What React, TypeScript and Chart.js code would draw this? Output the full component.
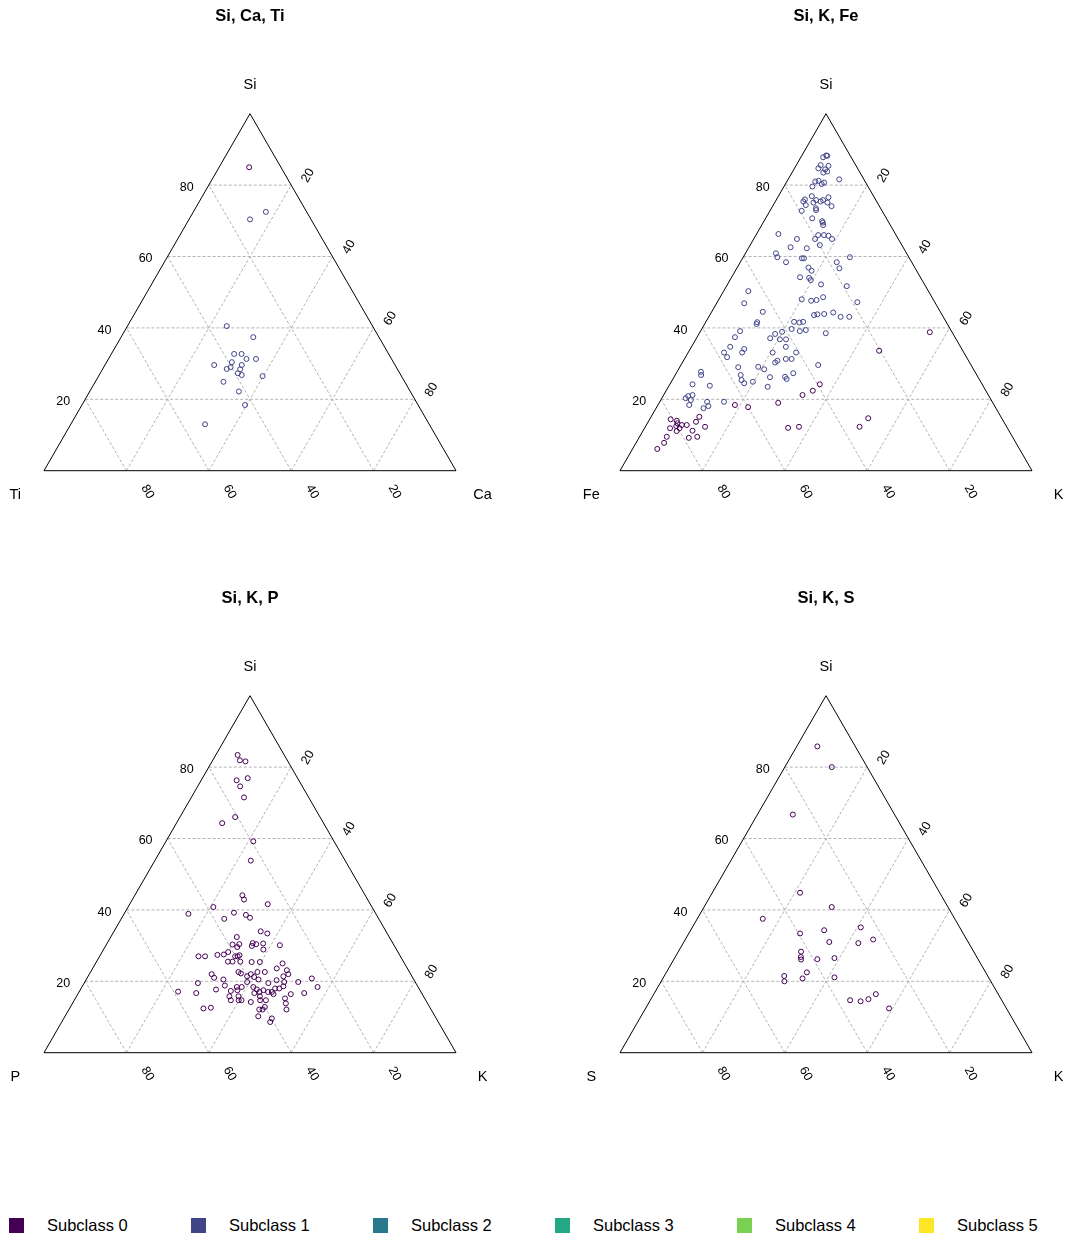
import React, { useEffect, useRef } from "react";
import { Chart, registerables } from "chart.js";

Chart.register(...registerables);

const FONT = '"Liberation Sans", Arial, Helvetica, sans-serif';

const SUBCLASS_LABELS = ["Subclass 0", "Subclass 1", "Subclass 2", "Subclass 3", "Subclass 4", "Subclass 5"];
const SUBCLASS_COLORS = ["#440154", "#414487", "#2A788E", "#22A884", "#7AD151", "#FDE725"];
const GRID_TICKS = [20, 40, 60, 80];
const TICK_LABELS = ["20", "40", "60", "80"];

// ---------- Panel 1: Si, Ca, Ti ----------
const p1Sub0Si = [85.0];
const p1Sub0Ca = [7.3];
const p1Sub0Ti = [7.7];
const p1Sub1Si = [72.5, 70.4, 40.5, 37.4, 32.7, 32.7, 31.3, 31.3, 30.4, 29.6, 29.6, 28.5, 29.0, 28.4, 27.3, 26.8, 26.5, 24.9, 22.2, 18.4, 13.0];
const p1Sub1Ca = [17.6, 14.8, 24.1, 32.1, 29.8, 31.6, 33.5, 35.8, 30.4, 33.2, 26.5, 30.1, 30.8, 33.4, 33.4, 34.6, 39.8, 31.1, 36.2, 39.6, 32.6];
const p1Sub1Ti = [9.9, 14.8, 35.4, 30.5, 37.5, 35.7, 35.2, 32.9, 39.2, 37.2, 43.9, 41.4, 40.2, 38.2, 39.3, 38.6, 33.7, 44.0, 41.6, 42.0, 54.4];

// ---------- Panel 2: Si, K, Fe ----------
const p2Sub1Si = [
  88.3, 87.8, 88.2, 85.6, 85.4, 84.7, 84.4, 83.8, 83.5, 81.6, 81.0, 81.2, 80.7, 79.6, 80.3, 76.9, 76.0, 75.8, 75.8, 76.6,
  75.4, 75.1, 75.1, 75.4, 74.4, 73.5, 73.0, 74.1, 72.8, 70.7, 69.9, 69.5, 68.8, 66.3, 64.9, 66.0, 66.0, 65.8, 64.9, 64.9,
  63.2, 62.6, 62.3, 60.9, 59.8, 58.4, 59.5, 59.5, 59.8, 58.4, 56.7, 56.9, 56.0, 54.2, 54.0, 53.4, 52.2, 51.7, 50.3, 46.9,
  48.0, 47.6, 47.8, 48.6, 47.2, 44.5, 43.6, 43.8, 43.9, 44.3, 43.1, 43.1, 41.6, 41.1, 41.7, 41.5, 41.7, 39.7, 39.1, 39.4,
  38.5, 39.1, 37.4, 38.3, 38.9, 37.1, 36.8, 36.8, 34.7, 33.1, 31.8, 34.1, 33.1, 33.1, 34.7, 33.1, 30.8, 30.3, 31.3, 31.3,
  29.6, 29.0, 29.1, 28.4, 27.7, 26.8, 26.8, 25.4, 26.2, 26.3, 25.7, 27.3, 24.9, 24.5, 23.8, 23.5, 24.2, 20.9, 21.2, 20.3,
  19.8, 18.4, 19.3, 18.1, 17.5, 19.3,
];
const p2Sub1K = [
  5.9, 5.4, 6.2, 5.9, 7.9, 5.8, 7.6, 8.4, 7.6, 12.4, 6.9, 7.6, 9.2, 6.9, 8.8, 8.1, 6.9, 9.7, 11.4, 12.3,
  11.0, 12.8, 9.4, 6.8, 7.9, 10.8, 11.1, 14.3, 7.7, 11.3, 14.1, 14.5, 14.9, 5.3, 10.5, 15.1, 16.5, 17.7, 19.0, 14.9,
  16.9, 10.1, 14.2, 7.4, 8.3, 11.1, 14.4, 14.9, 25.9, 23.4, 24.9, 17.3, 18.5, 16.6, 18.9, 19.6, 22.7, 29.2, 6.0, 6.7,
  20.1, 22.6, 23.8, 25.0, 34.0, 12.4, 25.3, 26.0, 27.6, 29.6, 32.0, 34.1, 12.5, 12.6, 21.4, 22.8, 23.6, 21.8, 24.1, 25.4,
  30.7, 9.6, 9.2, 18.5, 19.9, 17.9, 20.4, 21.9, 9.4, 8.7, 10.1, 13.1, 13.1, 20.5, 22.9, 26.2, 22.8, 22.5, 24.6, 26.0,
  33.3, 14.2, 19.0, 20.8, 5.8, 6.3, 15.9, 16.8, 23.3, 26.9, 27.6, 28.4, 19.8, 17.9, 9.9, 24.1, 5.5, 6.1, 7.0, 5.8,
  7.3, 7.6, 11.5, 12.4, 11.5, 15.6,
];
const p2Sub1Fe = [
  5.8, 6.8, 5.6, 8.5, 6.7, 9.5, 8.0, 7.8, 8.9, 6.0, 12.1, 11.2, 10.1, 13.5, 10.9, 15.0, 17.1, 14.5, 12.8, 11.1,
  13.6, 12.1, 15.5, 17.8, 17.7, 15.7, 15.9, 11.6, 19.5, 18.0, 16.0, 16.0, 16.3, 28.4, 24.6, 18.9, 17.5, 16.5, 16.1, 20.2,
  19.9, 27.3, 23.5, 31.7, 31.9, 30.5, 26.1, 25.6, 14.3, 18.2, 18.4, 25.8, 25.5, 29.2, 27.1, 27.0, 25.1, 19.1, 43.7, 46.4,
  31.9, 29.8, 28.4, 26.4, 18.8, 43.1, 31.1, 30.2, 28.5, 26.1, 24.9, 22.8, 45.9, 46.3, 36.9, 35.7, 34.7, 38.5, 36.8, 35.2,
  30.8, 51.3, 53.4, 43.2, 41.2, 45.0, 42.8, 41.3, 55.9, 58.2, 58.1, 52.8, 53.8, 46.4, 42.4, 40.7, 46.4, 47.2, 44.1, 42.7,
  37.1, 56.8, 51.9, 50.8, 66.5, 66.9, 57.3, 57.8, 50.5, 46.8, 46.7, 44.3, 55.3, 57.6, 66.3, 52.4, 70.3, 73.0, 71.8, 73.9,
  72.9, 74.0, 69.2, 69.5, 71.0, 65.1,
];
const p2Sub0Si = [38.8, 33.6, 24.2, 22.4, 21.2, 19.0, 18.4, 17.8, 15.1, 13.7, 12.3, 14.4, 14.0, 13.3, 12.5, 11.9, 12.8, 12.8, 11.9, 11.1, 11.2, 9.5, 9.2, 9.5, 7.8, 6.1, 12.0, 12.3, 12.3, 14.7];
const p2Sub0K = [55.8, 46.1, 36.4, 35.6, 33.7, 28.9, 18.7, 22.2, 11.7, 11.6, 14.5, 5.1, 6.8, 7.3, 7.4, 8.5, 8.6, 9.8, 6.2, 8.2, 12.0, 6.6, 12.1, 14.0, 6.8, 6.0, 34.8, 37.3, 52.0, 52.9];
const p2Sub0Fe = [5.4, 20.3, 39.4, 42.0, 45.1, 52.1, 62.9, 60.0, 73.2, 74.7, 73.2, 80.5, 79.2, 79.4, 80.1, 79.6, 78.6, 77.4, 81.9, 80.7, 76.8, 83.9, 78.7, 76.5, 85.4, 87.9, 53.2, 50.4, 35.7, 32.4];

// ---------- Panel 3: Si, K, P ----------
const p3Sub0Si = [
  83.4, 81.9, 81.6, 76.3, 76.9, 74.6, 71.5, 66.0, 64.3, 59.2, 53.8, 44.1, 42.9, 41.6, 40.8, 38.9, 39.2, 38.6, 37.8, 37.5,
  34.0, 33.4, 32.4, 30.3, 30.4, 29.6, 30.7, 30.4, 29.9, 30.6, 28.9, 30.1, 27.0, 27.0, 27.4, 27.5, 28.2, 27.0, 27.0, 27.3,
  25.5, 25.5, 25.5, 25.4, 25.4, 22.6, 22.0, 21.0, 20.5, 22.2, 21.4, 22.0, 22.6, 22.6, 21.2, 20.5, 19.8, 23.6, 25.0, 23.1,
  22.0, 21.4, 20.3, 19.8, 19.5, 19.8, 20.8, 19.5, 18.8, 17.1, 16.7, 17.7, 17.3, 18.4, 18.4, 17.5, 18.4, 17.7, 17.0, 16.7,
  17.5, 17.0, 17.0, 18.0, 18.0, 18.6, 16.4, 16.4, 16.7, 18.4, 15.8, 14.7, 15.8, 14.7, 14.7, 14.2, 15.8, 14.7, 14.7, 15.2,
  13.8, 12.4, 12.6, 12.1, 12.1, 12.8, 12.1, 10.2, 9.6, 8.6,
];
const p3Sub0K = [
  5.3, 6.6, 8.1, 8.6, 11.0, 10.3, 12.8, 13.4, 11.1, 21.2, 23.3, 26.1, 27.1, 33.5, 20.7, 15.6, 26.5, 29.7, 31.1, 25.0,
  35.6, 37.5, 30.6, 30.6, 32.2, 32.1, 35.3, 36.3, 35.5, 37.9, 38.8, 42.2, 24.0, 25.6, 28.4, 29.9, 30.6, 32.9, 33.5, 33.8,
  31.9, 33.0, 34.9, 37.7, 39.7, 35.9, 29.7, 30.8, 33.3, 36.7, 38.6, 39.2, 40.5, 42.3, 40.4, 41.8, 39.4, 44.7, 45.4, 47.4,
  48.3, 47.4, 46.3, 48.4, 44.7, 51.8, 54.6, 27.6, 34.5, 24.0, 28.6, 32.9, 36.7, 37.6, 38.8, 38.2, 41.6, 42.8, 43.8, 42.7,
  44.5, 45.9, 46.8, 47.1, 48.1, 48.8, 47.5, 51.7, 54.8, 57.2, 37.1, 38.0, 39.3, 39.9, 40.6, 43.1, 44.5, 45.1, 46.5, 50.9,
  51.8, 32.5, 34.2, 46.2, 47.0, 47.2, 52.8, 46.9, 50.5, 50.6,
];
const p3Sub0P = [
  11.3, 11.5, 10.3, 15.1, 12.1, 15.1, 15.7, 20.6, 24.6, 19.6, 22.9, 29.8, 30.0, 24.9, 38.5, 45.5, 34.3, 31.7, 31.1, 37.5,
  30.4, 29.1, 37.0, 39.1, 37.4, 38.3, 34.0, 33.3, 34.6, 31.5, 32.3, 27.7, 49.0, 47.4, 44.2, 42.6, 41.2, 40.1, 39.5, 38.9,
  42.6, 41.5, 39.6, 36.9, 34.9, 41.5, 48.3, 48.2, 46.2, 41.1, 40.0, 38.8, 36.9, 35.1, 38.4, 37.7, 40.8, 31.7, 29.6, 29.5,
  29.7, 31.2, 33.4, 31.8, 35.8, 28.4, 24.6, 52.9, 46.7, 58.9, 54.7, 49.4, 46.0, 44.0, 42.8, 44.3, 40.0, 39.5, 39.2, 40.6,
  38.0, 37.1, 36.2, 34.9, 33.9, 32.6, 36.1, 31.9, 28.5, 24.4, 47.1, 47.3, 44.9, 45.4, 44.7, 42.7, 39.7, 40.2, 38.8, 33.9,
  34.4, 55.1, 53.2, 41.7, 40.9, 40.0, 35.1, 42.9, 39.9, 40.8,
];

// ---------- Panel 4: Si, K, S ----------
const p4Sub0Si = [85.8, 80.0, 66.7, 44.8, 40.8, 37.5, 33.4, 34.3, 35.1, 31.0, 30.7, 31.7, 28.3, 26.8, 26.1, 26.2, 26.5, 21.5, 20.0, 22.5, 20.8, 21.1, 14.7, 14.4, 15.0, 16.4, 12.4];
const p4Sub0K = [5.0, 11.4, 8.6, 21.3, 31.0, 15.9, 27.0, 32.4, 40.9, 35.3, 42.5, 45.6, 29.8, 30.5, 30.9, 34.8, 38.8, 29.1, 29.9, 34.1, 33.9, 41.5, 48.5, 51.2, 52.8, 53.9, 59.1];
const p4Sub0S = [9.2, 8.6, 24.7, 33.9, 28.2, 46.6, 39.6, 33.3, 24.0, 33.7, 26.8, 22.7, 41.9, 42.7, 43.0, 39.0, 34.7, 49.4, 50.1, 43.4, 45.3, 37.4, 36.8, 34.4, 32.2, 29.7, 28.5];

type Group = { subclass: number; top: number[]; right: number[]; left: number[] };
type PanelCfg = { title: string; topLabel: string; rightLabel: string; leftLabel: string; groups: Group[] };

const PANELS: PanelCfg[] = [
  {
    title: "Si, Ca, Ti", topLabel: "Si", rightLabel: "Ca", leftLabel: "Ti",
    groups: [
      { subclass: 1, top: p1Sub1Si, right: p1Sub1Ca, left: p1Sub1Ti },
      { subclass: 0, top: p1Sub0Si, right: p1Sub0Ca, left: p1Sub0Ti },
    ],
  },
  {
    title: "Si, K, Fe", topLabel: "Si", rightLabel: "K", leftLabel: "Fe",
    groups: [
      { subclass: 1, top: p2Sub1Si, right: p2Sub1K, left: p2Sub1Fe },
      { subclass: 0, top: p2Sub0Si, right: p2Sub0K, left: p2Sub0Fe },
    ],
  },
  {
    title: "Si, K, P", topLabel: "Si", rightLabel: "K", leftLabel: "P",
    groups: [{ subclass: 0, top: p3Sub0Si, right: p3Sub0K, left: p3Sub0P }],
  },
  {
    title: "Si, K, S", topLabel: "Si", rightLabel: "K", leftLabel: "S",
    groups: [{ subclass: 0, top: p4Sub0Si, right: p4Sub0K, left: p4Sub0S }],
  },
];

// ---------- layout ----------
const W = 496;
const H = 580;
const TRI_LEFT = 44;
const TRI_WIDTH = 412;
const TRI_BOTTOM = 470.7;
const TRI_HEIGHT = 357;
const X_MIN = -TRI_LEFT / TRI_WIDTH;
const X_MAX = (W - TRI_LEFT) / TRI_WIDTH;
const Y_MIN = -(H - TRI_BOTTOM) / TRI_HEIGHT;
const Y_MAX = TRI_BOTTOM / TRI_HEIGHT;
const PANEL_POS = [
  [0, 0],
  [576, 0],
  [0, 582],
  [576, 582],
];
const GRID_COLOR = "#b3b3b3";

function TernaryPanel({ cfg, left, top }: { cfg: PanelCfg; left: number; top: number }) {
  const ref = useRef<HTMLCanvasElement | null>(null);

  useEffect(() => {
    const canvas = ref.current;
    if (!canvas) return;

    const toXY = (t: number, r: number, l: number) => {
      const sum = t + r + l;
      return { x: (r + t / 2) / sum, y: t / sum };
    };

    const datasets: any[] = [];
    cfg.groups.forEach((g) => {
      datasets.push({
        label: SUBCLASS_LABELS[g.subclass],
        data: g.top.map((t, i) => toXY(t, g.right[i], g.left[i])),
        showLine: false,
        pointStyle: "circle",
        pointRadius: 2.5,
        pointHoverRadius: 2.5,
        pointBorderWidth: 1,
        pointBorderColor: SUBCLASS_COLORS[g.subclass],
        pointBackgroundColor: "rgba(0,0,0,0)",
        borderColor: SUBCLASS_COLORS[g.subclass],
        backgroundColor: "rgba(0,0,0,0)",
        order: 0,
        clip: false,
      });
    });

    // triangle outline
    datasets.push({
      label: "outline",
      data: [
        { x: 0, y: 0 },
        { x: 1, y: 0 },
        { x: 0.5, y: 1 },
        { x: 0, y: 0 },
      ],
      showLine: true,
      borderColor: "#000000",
      borderWidth: 1,
      pointRadius: 0,
      fill: false,
      tension: 0,
      order: 1,
      clip: false,
    });

    // grid lines
    GRID_TICKS.forEach((t) => {
      const k = t / 100;
      const segs = [
        [{ x: k / 2, y: k }, { x: 1 - k / 2, y: k }],
        [{ x: k, y: 0 }, { x: k + (1 - k) / 2, y: 1 - k }],
        [{ x: 1 - k, y: 0 }, { x: (1 - k) / 2, y: 1 - k }],
      ];
      segs.forEach((seg) =>
        datasets.push({
          label: "grid",
          data: seg,
          showLine: true,
          borderColor: GRID_COLOR,
          borderWidth: 1,
          borderDash: [3, 2],
          pointRadius: 0,
          fill: false,
          order: 2,
          clip: false,
        })
      );
    });

    const textPlugin = {
      id: "ternaryText",
      afterDraw(chart: any) {
        const ctx = chart.ctx as CanvasRenderingContext2D;
        const xs = chart.scales.x;
        const ys = chart.scales.y;
        const P = (x: number, y: number) => [xs.getPixelForValue(x), ys.getPixelForValue(y)];
        const [tx, ty] = P(0.5, 1);
        const [lx, ly] = P(0, 0);
        const [rx, ry] = P(1, 0);
        ctx.save();
        ctx.fillStyle = "#000000";
        ctx.textAlign = "center";
        ctx.textBaseline = "middle";
        ctx.font = `bold 16.5px ${FONT}`;
        ctx.fillText(cfg.title, tx, ty - 96.8);
        ctx.font = `14.5px ${FONT}`;
        ctx.fillText(cfg.topLabel, tx, ty - 28.5);
        ctx.fillText(cfg.leftLabel, lx - 28.7, ly + 24.5);
        ctx.fillText(cfg.rightLabel, rx + 26.5, ry + 24.5);
        ctx.font = `12.5px ${FONT}`;
        GRID_TICKS.forEach((t, i) => {
          const k = t / 100;
          const lab = TICK_LABELS[i];
          // left axis (top component), horizontal
          const [ax, ay] = P(k / 2, k);
          ctx.fillText(lab, ax - 22, ay + 2.3);
          // right axis (right component)
          const [bx, by] = P(k + (1 - k) / 2, 1 - k);
          ctx.save();
          ctx.translate(bx + 16.7, by - 9.5);
          ctx.rotate(-Math.PI / 3);
          ctx.fillText(lab, 0, 0);
          ctx.restore();
          // bottom axis (left component)
          const [cx, cy] = P(1 - k, 0);
          ctx.save();
          ctx.translate(cx + 21, cy + 21);
          ctx.rotate(Math.PI / 3);
          ctx.fillText(lab, 0, 0);
          ctx.restore();
        });
        ctx.restore();
      },
    };

    const chart = new Chart(canvas, {
      type: "scatter",
      data: { datasets },
      options: {
        animation: false,
        responsive: false,
        maintainAspectRatio: false,
        devicePixelRatio: 1,
        events: [],
        layout: { padding: 0, autoPadding: false },
        scales: {
          x: { type: "linear", min: X_MIN, max: X_MAX, display: false },
          y: { type: "linear", min: Y_MIN, max: Y_MAX, display: false },
        },
        plugins: {
          legend: { display: false },
          tooltip: { enabled: false },
          title: { display: false },
        },
      } as any,
      plugins: [textPlugin],
    });
    return () => chart.destroy();
  }, [cfg]);

  return (
    <canvas
      ref={ref}
      width={W}
      height={H}
      style={{ position: "absolute", left, top, width: W, height: H, display: "block" }}
    />
  );
}

export default function App() {
  return (
    <div
      style={{
        position: "absolute",
        left: 0,
        top: 0,
        width: 1072,
        height: 1240,
        background: "#ffffff",
        overflow: "hidden",
      }}
    >
      {PANELS.map((cfg, i) => (
        <TernaryPanel key={i} cfg={cfg} left={PANEL_POS[i][0]} top={PANEL_POS[i][1]} />
      ))}
      <div style={{ position: "absolute", left: 0, top: 1215, width: 1072, height: 22 }}>
        {SUBCLASS_LABELS.map((lab, i) => (
          <React.Fragment key={i}>
            <div
              style={{
                position: "absolute",
                left: 9 + 182 * i,
                top: 2.5,
                width: 15,
                height: 15,
                background: SUBCLASS_COLORS[i],
              }}
            />
            <div
              style={{
                position: "absolute",
                left: 47 + 182 * i,
                top: 0,
                font: `16.5px ${FONT}`,
                lineHeight: "20px",
                color: "#000000",
                whiteSpace: "nowrap",
              }}
            >
              {lab}
            </div>
          </React.Fragment>
        ))}
      </div>
    </div>
  );
}
